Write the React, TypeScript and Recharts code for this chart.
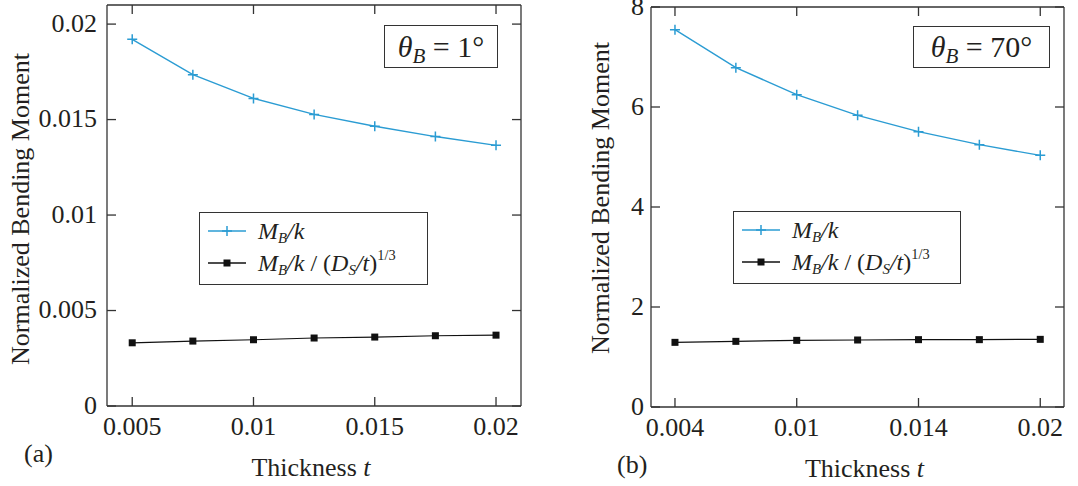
import React from 'react';
import { LineChart, Line, XAxis, YAxis, Legend } from 'recharts';

// (a) theta_B = 1 deg
const thicknessA = [0.005, 0.0075, 0.01, 0.0125, 0.015, 0.0175, 0.02];
const momentA = [0.0192, 0.01735, 0.01611, 0.01527, 0.01465, 0.01411, 0.01365];
const scaledA = [0.00331, 0.0034, 0.00347, 0.00356, 0.00361, 0.00368, 0.00371];
const xTicksA = [0.005, 0.01, 0.015, 0.02];
const xTickLabelsA = ['0.005', '0.01', '0.015', '0.02'];
const yTicksA = [0, 0.005, 0.01, 0.015, 0.02];
const yTickLabelsA = ['0', '0.005', '0.01', '0.015', '0.02'];

// (b) theta_B = 70 deg
const thicknessB = [0.004, 0.006667, 0.009333, 0.012, 0.014667, 0.017333, 0.02];
const momentB = [7.547, 6.787, 6.247, 5.833, 5.507, 5.247, 5.033];
const scaledB = [1.293, 1.313, 1.333, 1.34, 1.347, 1.347, 1.353];
const xTicksB = [0.004, 0.009333, 0.014667, 0.02];
const xTickLabelsB = ['0.004', '0.01', '0.014', '0.02'];
const yTicksB = [0, 2, 4, 6, 8];
const yTickLabelsB = ['0', '2', '4', '6', '8'];

const BLUE = '#2b9cd3';
const INK = '#231f20';
const FRAME = '#333333';
const SERIF = "Times New Roman, Tinos, Liberation Serif, Noto Serif, DejaVu Serif, serif";
const TICK = 9;
const FONT = 26;

const labelFor = (ticks: number[], labels: string[]) => (v: number) => {
  const i = ticks.findIndex((t) => Math.abs(t - v) < 1e-9);
  return i >= 0 ? labels[i] : String(v);
};

const PlusDot = (props: any) => {
  const { cx, cy } = props;
  if (cx == null || cy == null) return null;
  return (
    <path
      d={`M${cx - 5},${cy}H${cx + 5}M${cx},${cy - 5}V${cy + 5}`}
      stroke={BLUE}
      strokeWidth={1.5}
      fill="none"
    />
  );
};

const SquareDot = (props: any) => {
  const { cx, cy } = props;
  if (cx == null || cy == null) return null;
  return <rect x={cx - 3.5} y={cy - 3.5} width={7} height={7} fill="#111" />;
};

const subStyle: React.CSSProperties = {
  fontStyle: 'italic',
  fontSize: '0.62em',
  verticalAlign: '-0.28em',
  lineHeight: 0,
};

const MLabel = () => (
  <>
    <i>M</i>
    <sub style={subStyle}>B</sub>
    <i>/k</i>
  </>
);

const ScaledLabel = () => (
  <>
    <MLabel />
    <span> / (</span>
    <i>D</i>
    <sub style={subStyle}>S</sub>
    <i>/t</i>
    <span>)</span>
    <sup style={{ fontSize: '0.6em', verticalAlign: '0.75em', lineHeight: 0 }}>1/3</sup>
  </>
);

const legendText: Record<string, React.ReactNode> = {
  moment: <MLabel />,
  scaled: <ScaledLabel />,
};

const LegendBox = (props: any) => {
  const items = props.payload || [];
  return (
    <div
      style={{
        boxSizing: 'border-box',
        width: '100%',
        height: 73,
        border: `1.3px solid ${FRAME}`,
        background: '#fff',
        paddingTop: 2,
        fontFamily: SERIF,
        fontSize: 24,
        color: INK,
      }}
    >
      {items.map((entry: any) => (
        <div key={entry.dataKey} style={{ display: 'flex', alignItems: 'center', height: 32 }}>
          <svg width={38} height={12} style={{ marginLeft: 8, marginRight: 12, flex: 'none' }}>
            <line x1={0} x2={38} y1={6} y2={6} stroke={entry.color} strokeWidth={1.4} />
            {entry.dataKey === 'moment' ? (
              <path d="M14,6H24M19,1V11" stroke={BLUE} strokeWidth={1.5} />
            ) : (
              <rect x={15.5} y={2.5} width={7} height={7} fill="#111" />
            )}
          </svg>
          <span style={{ whiteSpace: 'nowrap' }}>{legendText[entry.dataKey]}</span>
        </div>
      ))}
    </div>
  );
};

type PanelProps = {
  left: number;
  width: number;
  t: number[];
  moment: number[];
  scaled: number[];
  xDomain: [number, number];
  xTicks: number[];
  xLabels: string[];
  yDomain: [number, number];
  yTicks: number[];
  yLabels: string[];
  margin: { top: number; right: number; bottom: number; left: number };
  yAxisWidth: number;
  yTickGap: number;
  yTitleX: number;
  yTitleDy: number;
  xTitleDx: number;
  tag: string;
  tagX: number;
  tagY: number;
  legendBox: { left: number; top: number; width: number };
  angle: string;
  angleBox: { left: number; top: number; width: number; height: number };
};

const Panel = (p: PanelProps) => {
  const rows = p.t.map((t, i) => ({ t, moment: p.moment[i], scaled: p.scaled[i] }));
  const fmtX = labelFor(p.xTicks, p.xLabels);
  const fmtY = labelFor(p.yTicks, p.yLabels);
  const textStyle = { style: { fontFamily: SERIF, fontSize: FONT }, fill: INK };

  const bottomTick = (q: any) => (
    <g>
      <line x1={q.x} x2={q.x} y1={q.y} y2={q.y - TICK} stroke={FRAME} strokeWidth={1.3} />
      <text x={q.x} y={q.y + 29} textAnchor="middle" {...textStyle}>
        {fmtX(q.payload.value)}
      </text>
    </g>
  );
  const topTick = (q: any) => (
    <line x1={q.x} x2={q.x} y1={q.y} y2={q.y + TICK} stroke={FRAME} strokeWidth={1.3} />
  );
  const leftTick = (q: any) => (
    <g>
      <line x1={q.x} x2={q.x + TICK} y1={q.y} y2={q.y} stroke={FRAME} strokeWidth={1.3} />
      <text x={q.x - p.yTickGap} y={q.y + 7.5} textAnchor="end" {...textStyle}>
        {fmtY(q.payload.value)}
      </text>
    </g>
  );
  const rightTick = (q: any) => (
    <line x1={q.x} x2={q.x - TICK} y1={q.y} y2={q.y} stroke={FRAME} strokeWidth={1.3} />
  );

  const xTitle = (q: any) => {
    const vb = q.viewBox;
    return (
      <g>
        <text x={vb.x + vb.width / 2 + p.xTitleDx} y={vb.y + 70} textAnchor="middle" {...textStyle}>
          Thickness <tspan fontStyle="italic">t</tspan>
        </text>
        <text x={vb.x + p.tagX} y={vb.y + p.tagY} {...textStyle}>
          {p.tag}
        </text>
      </g>
    );
  };
  const yTitle = (q: any) => {
    const vb = q.viewBox;
    const x = vb.x + vb.width - p.yTitleX;
    const y = vb.y + vb.height / 2 + p.yTitleDy;
    return (
      <text x={x} y={y} textAnchor="middle" transform={`rotate(-90, ${x}, ${y})`} {...textStyle}>
        Normalized Bending Moment
      </text>
    );
  };

  const axisLine = { stroke: FRAME, strokeWidth: 1.3 };

  return (
    <div style={{ position: 'absolute', left: p.left, top: 0, width: p.width, height: 486 }}>
      <LineChart width={p.width} height={486} data={rows} margin={p.margin}>
        <XAxis
          xAxisId="bottom"
          dataKey="t"
          type="number"
          domain={p.xDomain}
          allowDataOverflow
          ticks={p.xTicks}
          interval={0}
          height={50}
          tickSize={0}
          tickMargin={0}
          tickLine={false}
          axisLine={axisLine}
          tick={bottomTick}
          label={xTitle}
        />
        <XAxis
          xAxisId="top"
          orientation="top"
          dataKey="t"
          type="number"
          domain={p.xDomain}
          allowDataOverflow
          ticks={p.xTicks}
          interval={0}
          height={1}
          tickSize={0}
          tickMargin={0}
          tickLine={false}
          axisLine={axisLine}
          tick={topTick}
        />
        <YAxis
          yAxisId="left"
          type="number"
          domain={p.yDomain}
          allowDataOverflow
          ticks={p.yTicks}
          interval={0}
          width={p.yAxisWidth}
          tickSize={0}
          tickMargin={0}
          tickLine={false}
          axisLine={axisLine}
          tick={leftTick}
          label={yTitle}
        />
        <YAxis
          yAxisId="right"
          orientation="right"
          type="number"
          domain={p.yDomain}
          allowDataOverflow
          ticks={p.yTicks}
          interval={0}
          width={5}
          tickSize={0}
          tickMargin={0}
          tickLine={false}
          axisLine={axisLine}
          tick={rightTick}
        />
        <Legend
          layout="horizontal"
          verticalAlign="middle"
          align="center"
          content={<LegendBox />}
          wrapperStyle={{
            left: p.legendBox.left,
            top: p.legendBox.top,
            width: p.legendBox.width,
            right: 'auto',
            bottom: 'auto',
          }}
        />
        <Line
          xAxisId="bottom"
          yAxisId="left"
          type="linear"
          dataKey="moment"
          name="M_B/k"
          stroke={BLUE}
          strokeWidth={1.4}
          dot={<PlusDot />}
          activeDot={false}
          isAnimationActive={false}
        />
        <Line
          xAxisId="bottom"
          yAxisId="left"
          type="linear"
          dataKey="scaled"
          name="M_B/k / (D_S/t)^(1/3)"
          stroke="#111"
          strokeWidth={1.2}
          dot={<SquareDot />}
          activeDot={false}
          isAnimationActive={false}
        />
      </LineChart>
      <div
        style={{
          position: 'absolute',
          boxSizing: 'border-box',
          left: p.angleBox.left,
          top: p.angleBox.top,
          width: p.angleBox.width,
          height: p.angleBox.height,
          border: `1.3px solid ${FRAME}`,
          background: '#fff',
          display: 'flex',
          alignItems: 'center',
          justifyContent: 'center',
          fontFamily: SERIF,
          fontSize: 30,
          color: INK,
          whiteSpace: 'nowrap',
        }}
      >
        <span>
          <i>θ</i>
          <sub style={{ fontStyle: 'italic', fontSize: '0.7em', verticalAlign: '-0.3em', lineHeight: 0 }}>B</sub>
          <span>&nbsp;= {p.angle}°</span>
        </span>
      </div>
    </div>
  );
};

export default function App() {
  return (
    <div style={{ position: 'absolute', left: 0, top: 0, width: 1078, height: 486, background: '#fff' }}>
      <Panel
        left={0}
        width={540}
        t={thicknessA}
        moment={momentA}
        scaled={scaledA}
        xDomain={[0.00396, 0.02103]}
        xTicks={xTicksA}
        xLabels={xTickLabelsA}
        yDomain={[0, 0.021]}
        yTicks={yTicksA}
        yLabels={yTickLabelsA}
        margin={{ top: 4, right: 14, bottom: 30, left: 0 }}
        yAxisWidth={107}
        yTickGap={10}
        yTitleX={78}
        yTitleDy={3.5}
        xTitleDx={-3}
        tag="(a)"
        tagX={-83}
        tagY={56}
        legendBox={{ left: 199, top: 212, width: 229 }}
        angle="1"
        angleBox={{ left: 384, top: 25, width: 114, height: 43 }}
      />
      <Panel
        left={540}
        width={538}
        t={thicknessB}
        moment={momentB}
        scaled={scaledB}
        xDomain={[0.00295, 0.02104]}
        xTicks={xTicksB}
        xLabels={xTickLabelsB}
        yDomain={[0, 8]}
        yTicks={yTicksB}
        yLabels={yTickLabelsB}
        margin={{ top: 6, right: 9, bottom: 29, left: 0 }}
        yAxisWidth={111}
        yTickGap={7}
        yTitleX={42}
        yTitleDy={-9}
        xTitleDx={7}
        tag="(b)"
        tagX={-34}
        tagY={66}
        legendBox={{ left: 193, top: 211, width: 228 }}
        angle="70"
        angleBox={{ left: 373, top: 26, width: 137, height: 42 }}
      />
    </div>
  );
}
